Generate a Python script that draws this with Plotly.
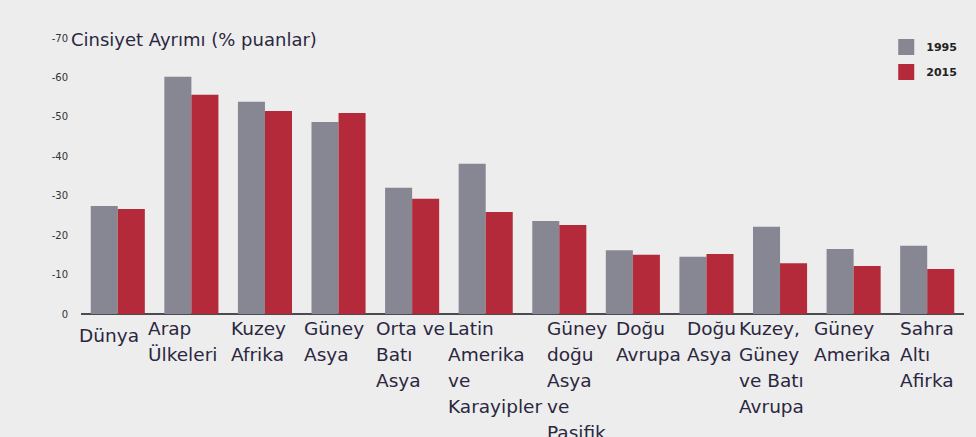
"""Cinsiyet ayrimi grouped bar chart, 1995 vs 2015."""

import plotly.graph_objects as go

regions = [
    "Dünya", "Arap Ülkeleri", "Kuzey Afrika", "Güney Asya", "Orta ve Batı Asya",
    "Latin Amerika ve Karayipler", "Güney doğu Asya ve Pasifik", "Doğu Avrupa",
    "Doğu Asya", "Kuzey, Güney ve Batı Avrupa", "Güney Amerika", "Sahra Altı Afirka",
]
label_lines = [
    ["Dünya"],
    ["Arap", "Ülkeleri"],
    ["Kuzey", "Afrika"],
    ["Güney", "Asya"],
    ["Orta ve", "Batı", "Asya"],
    ["Latin", "Amerika", "ve", "Karayipler"],
    ["Güney", "doğu", "Asya", "ve", "Pasifik"],
    ["Doğu", "Avrupa"],
    ["Doğu", "Asya"],
    ["Kuzey,", "Güney", "ve Batı", "Avrupa"],
    ["Güney", "Amerika"],
    ["Sahra", "Altı", "Afirka"],
]
gap_1995 = [27.4, 60.2, 53.8, 48.7, 32.0, 38.1, 23.6, 16.2, 14.5, 22.1, 16.5, 17.3]
gap_2015 = [26.6, 55.6, 51.5, 51.0, 29.2, 25.9, 22.6, 15.0, 15.2, 12.9, 12.2, 11.4]
years = ["1995", "2015"]
tick_vals = [0, 10, 20, 30, 40, 50, 60, 70]
tick_text = ["0", "-10", "-20", "-30", "-40", "-50", "-60", "-70"]

GREY = "#868792"
RED = "#B42A3B"
INK = "#2B2740"
BG = "#EDEDED"
FONT = "DejaVu Sans"

# label nudges (px) relative to the left edge of each group
label_dx = [-4, -9, 1, 0, -1, -3, 23, 18, 15, -6, -5, 8]

fig = go.Figure()
for year, vals, col in zip(years, [gap_1995, gap_2015], [GREY, RED]):
    fig.add_trace(go.Bar(x=regions, y=vals, name=year, showlegend=False,
                         marker=dict(color=col, line_width=0)))
    # legend swatch
    fig.add_trace(go.Scatter(
        x=[None], y=[None], mode="markers", name=year, legendgroup=year,
        marker=dict(symbol="square", size=16, color=col, line_width=0),
    ))

for reg, lines, dx in zip(regions, label_lines, label_dx):
    first_y = 21 if reg == "Dünya" else 14
    for i, line in enumerate(lines):
        fig.add_annotation(
            x=reg, y=0, xref="x", yref="y",
            text=line, showarrow=False,
            xanchor="left", yanchor="middle",
            xshift=-36.8 + dx, yshift=-(first_y + i * 26),
            font=dict(family=FONT, size=18.5, color=INK),
        )

fig.add_annotation(
    x=0, y=1, xref="paper", yref="paper", text="Cinsiyet Ayrımı (% puanlar)",
    showarrow=False, xanchor="left", yanchor="middle", xshift=-12, yshift=-1,
    font=dict(family=FONT, size=18, color=INK),
)

fig.update_layout(
    width=976, height=437,
    margin=dict(l=81, r=12, t=38, b=123),
    paper_bgcolor=BG, plot_bgcolor=BG,
    barmode="group", bargap=0.265, bargroupgap=0,
    showlegend=True,
    legend=dict(
        x=0.998, y=1.02, xanchor="right", yanchor="top",
        bgcolor="rgba(0,0,0,0)", tracegroupgap=6, itemsizing="trace",
        font=dict(family=FONT, size=11, color="#222222", weight="bold"),
    ),
    xaxis=dict(
        range=[-0.5, len(regions) - 0.5], autorange=False,
        showticklabels=False, showgrid=False, zeroline=False,
        showline=False,
    ),
    yaxis=dict(
        range=[0, 70], autorange=False, tickvals=tick_vals, ticktext=tick_text,
        showgrid=False, zeroline=True, zerolinecolor="#4A4A50", zerolinewidth=2,
        ticklabelstandoff=12,
        tickfont=dict(family=FONT, size=10, color="#333333"),
    ),
)

fig.write_html("out.html", config={"displayModeBar": False},
               post_script="document.body.style.margin='0';")
